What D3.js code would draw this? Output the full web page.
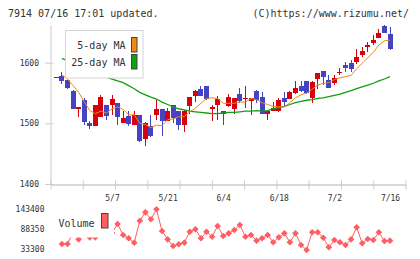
<!DOCTYPE html>
<html>
<head>
<meta charset="utf-8">
<script src="https://cdn.jsdelivr.net/npm/d3@7"></script>
<style>
  body { margin: 0; background: #fff; }
  text { font-family: "DejaVu Sans Mono", "Liberation Mono", monospace; fill: #333; }
</style>
</head>
<body>
<div id="chart"></div>
<script>
// Trading days shown on the chart (2025)
var dates = ["4/18", "4/21", "4/22", "4/23", "4/24", "4/25", "4/28", "4/30", "5/1", "5/2",
  "5/7", "5/8", "5/9", "5/12", "5/13", "5/14", "5/15", "5/16", "5/19", "5/20",
  "5/21", "5/22", "5/23", "5/26", "5/27", "5/28", "5/29", "5/30", "6/2", "6/3",
  "6/4", "6/5", "6/6", "6/9", "6/10", "6/11", "6/12", "6/13", "6/16", "6/17",
  "6/18", "6/19", "6/20", "6/23", "6/24", "6/25", "6/26", "6/27", "6/30", "7/1",
  "7/2", "7/3", "7/4", "7/7", "7/8", "7/9", "7/10", "7/11", "7/14", "7/15", "7/16"];

// Candle values
var openPrices = [1575, 1578, 1571, 1554, 1524, 1539, 1500, 1496, 1510, 1531,
  1531, 1533, 1501, 1512, 1498, 1513, 1474, 1496, 1513, 1523,
  1503, 1530, 1520, 1497, 1528, 1545, 1556, 1561, 1523, 1531,
  1520, 1528, 1524, 1549, 1540, 1536, 1554, 1543, 1516, 1520,
  1521, 1541, 1540, 1550, 1561, 1569, 1542, 1573, 1586, 1571,
  1567, 1583, 1596, 1600, 1601, 1613, 1626, 1632, 1641, 1661, 1647];
var highPrices = [1576, 1584, 1572, 1555, 1527, 1542, 1503, 1531, 1547, 1531,
  1546, 1533, 1521, 1520, 1520, 1514, 1502, 1513, 1538, 1523,
  1525, 1530, 1520, 1522, 1544, 1555, 1561, 1562, 1530, 1545,
  1521, 1548, 1542, 1559, 1561, 1541, 1555, 1551, 1521, 1535,
  1542, 1552, 1553, 1569, 1569, 1570, 1569, 1583, 1586, 1579,
  1579, 1591, 1601, 1604, 1623, 1625, 1634, 1645, 1656, 1662, 1659];
var lowPrices = [1575, 1565, 1557, 1523, 1510, 1498, 1491, 1495, 1510, 1506,
  1514, 1498, 1500, 1495, 1498, 1469, 1463, 1477, 1505, 1479,
  1503, 1500, 1489, 1486, 1516, 1535, 1545, 1538, 1503, 1505,
  1498, 1527, 1516, 1533, 1526, 1513, 1533, 1515, 1506, 1520,
  1518, 1528, 1540, 1549, 1552, 1549, 1533, 1557, 1563, 1558,
  1563, 1580, 1585, 1585, 1597, 1609, 1617, 1629, 1641, 1648, 1620];
var closePrices = [1576, 1570, 1558, 1524, 1527, 1502, 1496, 1531, 1543, 1512,
  1540, 1510, 1508, 1499, 1513, 1471, 1501, 1479, 1523, 1504,
  1521, 1509, 1498, 1521, 1543, 1554, 1545, 1540, 1527, 1540,
  1515, 1543, 1541, 1536, 1541, 1541, 1538, 1516, 1520, 1525,
  1538, 1535, 1552, 1559, 1553, 1550, 1568, 1583, 1576, 1558,
  1575, 1584, 1591, 1589, 1610, 1619, 1629, 1637, 1649, 1648, 1622];

// Moving averages
var ma5 = [null, 1580, 1573, 1562, 1551, 1536, 1521, 1516, 1520, 1517,
  1524, 1527, 1523, 1514, 1514, 1500, 1498, 1493, 1497, 1496,
  1506, 1507, 1511, 1511, 1519, 1525, 1533, 1541, 1542, 1541,
  1533, 1533, 1533, 1535, 1535, 1541, 1539, 1534, 1531, 1528,
  1527, 1527, 1534, 1542, 1547, 1550, 1556, 1563, 1566, 1567,
  1572, 1575, 1577, 1579, 1590, 1599, 1608, 1617, 1629, 1636, 1637];
var ma25 = [null, 1607, 1603, 1599, 1595, 1591, 1587, 1583, 1579, 1576,
  1573, 1570, 1567, 1562, 1557, 1551, 1547, 1543, 1540, 1535,
  1531, 1527, 1524, 1522, 1520, 1519, 1518, 1517, 1516, 1516,
  1517, 1518, 1518, 1519, 1520, 1520, 1521, 1520, 1521, 1524,
  1526, 1528, 1531, 1534, 1536, 1538, 1539, 1541, 1542, 1544,
  1546, 1548, 1551, 1554, 1557, 1560, 1563, 1566, 1570, 1573, 1577];

// Volume
var volumes = [null, 47900, 47900, 79800, 60800, 100000, 66300, 66300, 100000, 90000,
  78200, 102900, 72700, 63600, 51500, 112000, 135100, 115900, 143400, 83700,
  60800, 42400, 47100, 51500, 81700, 88400, 63600, 81700, 68000, 97400,
  69900, 77300, 86400, 100200, 68000, 72700, 57000, 63600, 72700, 52600,
  66300, 77300, 52600, 77300, 45100, 31400, 80100, 80100, 65200, 38800,
  58900, 52600, 45100, 60800, 93900, 49800, 61700, 58900, 80100, 56200, 57000];

// Tick labels
var priceTicks = [1400, 1500, 1600];
var volumeTicks = [33300, 88350, 143400];
var dateLabels = ["5/7", "5/21", "6/4", "6/18", "7/2", "7/16"];

var upColor = "#d7000f";
var downColor = "#4343c3";
var ma5Color = "#f08a10";
var ma25Color = "#10a010";
var volColor = "#ff5d62";
var axisColor = "#cccccc";

var svgWidth = 420;
var svgHeight = 259;

var svg = d3.select("#chart")
  .append("svg")
  .attr("width", svgWidth)
  .attr("height", svgHeight);

// Build one record per day from the arrays
var days = dates.map(function(d, i) {
  return {
    date: d,
    open: openPrices[i],
    high: highPrices[i],
    low: lowPrices[i],
    close: closePrices[i],
    ma5: ma5[i],
    ma25: ma25[i],
    volume: volumes[i]
  };
});

// Scales
var xScale = d3.scalePoint().domain(dates).range([56.4, 390]);
var yScale = d3.scaleLinear().domain([1400, 1662]).range([184, 25]);
var volScale = d3.scaleLinear().domain([33300, 143400]).range([249.3, 209.3]);
var gridScale = d3.scaleLinear().domain([0, 11]).range([50.5, 405.5]);

// Header texts
svg.append("text")
  .attr("x", 8)
  .attr("y", 16.5)
  .style("font-size", "10px")
  .text("7914 07/16 17:01 updated.");

svg.append("text")
  .attr("x", 409)
  .attr("y", 16.5)
  .attr("text-anchor", "end")
  .style("font-size", "10px")
  .text("(C)https://www.rizumu.net/");

// Left price axis
var leftAxis = svg.append("g")
  .attr("transform", "translate(50.5, 0)")
  .call(d3.axisLeft(yScale).tickValues(priceTicks).tickFormat(d3.format("d"))
    .tickSize(5.5).tickSizeOuter(0).tickPadding(6));
leftAxis.select(".domain").attr("stroke", axisColor);
leftAxis.selectAll(".tick line").attr("stroke", axisColor).attr("x1", 3);
leftAxis.selectAll("text").style("font-size", "8px").attr("fill", "#333");

// Bottom axis with evenly spaced marks
var bottomAxis = svg.append("g")
  .attr("transform", "translate(0, 184.5)")
  .call(d3.axisBottom(gridScale).tickValues(d3.range(12)).tickSize(5).tickSizeOuter(0).tickFormat(""));
bottomAxis.select(".domain").attr("stroke", axisColor).attr("stroke-width", 1.5);
bottomAxis.selectAll(".tick line").attr("stroke", axisColor).attr("y1", -4);

// Date labels
var dateAxis = svg.append("g")
  .attr("transform", "translate(0, 195)")
  .call(d3.axisBottom(xScale).tickValues(dateLabels).tickSize(0).tickPadding(0));
dateAxis.select(".domain").remove();
dateAxis.selectAll("text").style("font-size", "8px").attr("fill", "#333");

// Volume labels
var volAxis = svg.append("g")
  .attr("transform", "translate(44.5, 0)")
  .call(d3.axisLeft(volScale).tickValues(volumeTicks).tickFormat(d3.format("d"))
    .tickSize(0).tickPadding(0));
volAxis.select(".domain").remove();
volAxis.selectAll("text").style("font-size", "8px").attr("fill", "#333");

// Candles
var bodyWidth = 5;
var candles = svg.append("g").attr("shape-rendering", "crispEdges");

candles.selectAll(".wick")
  .data(days)
  .enter()
  .append("line")
  .attr("class", "wick")
  .attr("x1", d => xScale(d.date))
  .attr("x2", d => xScale(d.date))
  .attr("y1", d => yScale(d.high))
  .attr("y2", d => yScale(d.low))
  .attr("stroke", d => d.close >= d.open ? upColor : downColor)
  .attr("stroke-width", 1);

candles.selectAll(".body")
  .data(days)
  .enter()
  .append("rect")
  .attr("class", "body")
  .attr("x", d => xScale(d.date) - bodyWidth / 2)
  .attr("y", d => yScale(Math.max(d.open, d.close)))
  .attr("width", bodyWidth)
  .attr("height", d => Math.max(1, Math.abs(yScale(d.open) - yScale(d.close))))
  .attr("fill", d => d.close >= d.open ? upColor : downColor);

// Moving average lines
var ma5Line = d3.line()
  .defined(d => d.ma5 != null)
  .x(d => xScale(d.date))
  .y(d => yScale(d.ma5));

var ma25Line = d3.line()
  .defined(d => d.ma25 != null)
  .x(d => xScale(d.date))
  .y(d => yScale(d.ma25));

svg.append("path")
  .attr("d", ma25Line(days))
  .attr("fill", "none")
  .attr("stroke", ma25Color)
  .attr("stroke-width", 1.3);

svg.append("path")
  .attr("d", ma5Line(days))
  .attr("fill", "none")
  .attr("stroke", ma5Color)
  .attr("stroke-width", 1);

// Volume line and markers
var volLine = d3.line()
  .defined(d => d.volume != null)
  .x(d => xScale(d.date))
  .y(d => volScale(d.volume));

svg.append("path")
  .attr("d", volLine(days))
  .attr("fill", "none")
  .attr("stroke", volColor)
  .attr("stroke-width", 1);

svg.selectAll(".vol")
  .data(days.filter(d => d.volume != null))
  .enter()
  .append("path")
  .attr("class", "vol")
  .attr("d", d3.symbol(d3.symbolSquare, 22))
  .attr("transform", d => "translate(" + xScale(d.date) + "," + volScale(d.volume) + ") rotate(45)")
  .attr("fill", volColor);

// Price legend
var legend = svg.append("g");
legend.append("rect")
  .attr("x", 65.5).attr("y", 30.5)
  .attr("width", 77.5).attr("height", 47.5)
  .attr("fill", "#fff")
  .attr("stroke", "#d4d4d4");

var legendItems = [
  { label: "5-day MA", color: ma5Color, y: 37.5 },
  { label: "25-day MA", color: ma25Color, y: 54.5 }
];

legend.selectAll(".swatch")
  .data(legendItems)
  .enter()
  .append("rect")
  .attr("class", "swatch")
  .attr("x", 131.5)
  .attr("y", d => d.y)
  .attr("width", 5.5)
  .attr("height", 14.5)
  .attr("fill", d => d.color)
  .attr("stroke", "#444");

legend.selectAll(".label")
  .data(legendItems)
  .enter()
  .append("text")
  .attr("class", "label")
  .attr("x", 125.5)
  .attr("y", d => d.y + 11)
  .attr("text-anchor", "end")
  .style("font-size", "10px")
  .text(d => d.label);

// Volume legend
svg.append("rect")
  .attr("x", 55).attr("y", 207)
  .attr("width", 59).attr("height", 30.5)
  .attr("fill", "#fff");

svg.append("text")
  .attr("x", 94.5)
  .attr("y", 226.5)
  .attr("text-anchor", "end")
  .style("font-size", "10px")
  .text("Volume");

svg.append("rect")
  .attr("x", 101.5).attr("y", 213.5)
  .attr("width", 6.5).attr("height", 14.5)
  .attr("fill", volColor)
  .attr("stroke", "#444");
</script>
</body>
</html>
